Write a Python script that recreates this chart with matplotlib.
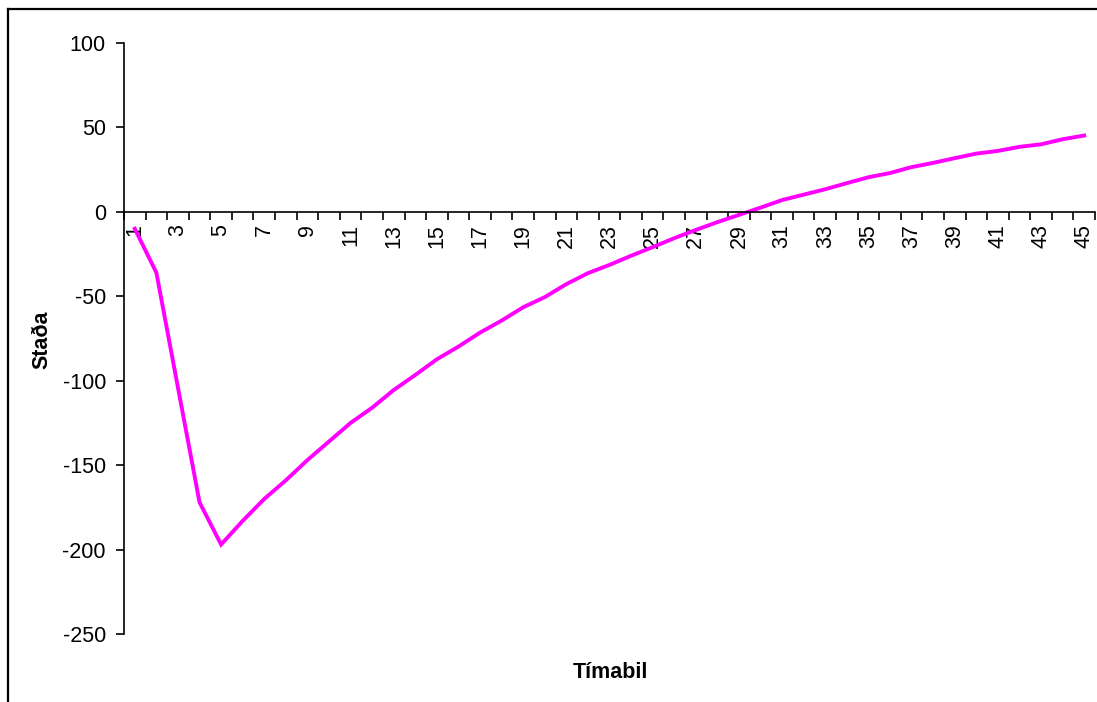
import matplotlib
matplotlib.use("Agg")
import matplotlib.pyplot as plt
from matplotlib.lines import Line2D
import numpy as np

plt.rcParams['font.family'] = ['Liberation Sans', 'DejaVu Sans']

# Tímabil 1..45 and the balance (Staða) for each period
periods = list(range(1, 46))
stada = [-10, -36, -104, -172, -197, -183, -170, -159, -147, -136,
         -125, -116, -105.5, -96.6, -87.3, -79.8, -71.5, -64.4, -56.5, -50.5,
         -42.8, -36.3, -31.4, -26, -20.9, -15.6, -10.7, -6.1, -1.8, 2.5,
         7, 10.2, 13.4, 17, 20.5, 23, 26.5, 29, 31.8, 34.5,
         36.1, 38.5, 40, 43, 45.2]
y_ticks = [-250, -200, -150, -100, -50, 0, 50, 100]
x_labels = [str(p) for p in periods if p % 2 == 1]

FS = 15.5
W, H = 1097, 702
fig = plt.figure(figsize=(W / 100, H / 100), dpi=100)
ax = fig.add_axes([124 / W, 1 - 634 / H, (1095 - 124) / W, (634 - 43) / H])

ax.plot(periods, stada, color='#FF00FF', lw=2.8, solid_joinstyle='miter')

ax.set_xlim(0.5, len(periods) + 0.5)
ax.set_ylim(-250, 100)
ax.set_yticks(y_ticks)
ax.set_yticklabels([str(v) for v in y_ticks], fontsize=FS)
ax.tick_params(axis='y', direction='out', length=6, width=1.2, pad=7)

# category axis sits on y = 0, ticks between categories, labels on odd categories
for s in ['top', 'right']:
    ax.spines[s].set_visible(False)
ax.spines['bottom'].set_position(('data', 0))
ax.spines['bottom'].set_linewidth(1.2)
ax.spines['left'].set_linewidth(1.2)

ax.set_xticks(np.arange(0.5, len(periods) + 1, 1.0))
ax.set_xticklabels([])
ax.tick_params(axis='x', which='major', direction='out', length=6, width=1.2)
odd = [p for p in periods if p % 2 == 1]
ax.set_xticks(odd, minor=True)
ax.set_xticklabels(x_labels, minor=True, rotation=90, fontsize=FS)
ax.tick_params(axis='x', which='minor', length=0, pad=9)

fig.text(42 / W, 1 - 340 / H, 'Staða', rotation=90, fontsize=FS,
         fontweight='bold', ha='center', va='center')
fig.text(610 / W, 1 - 672 / H, 'Tímabil', fontsize=FS,
         fontweight='bold', ha='center', va='center')

# outer chart-area frame
fig.add_artist(Line2D([8 / W, 8 / W], [0, 1 - 9 / H], color='black', lw=1.6,
                      transform=fig.transFigure))
fig.add_artist(Line2D([8 / W, 1], [1 - 9 / H, 1 - 9 / H], color='black', lw=1.6,
                      transform=fig.transFigure))

fig.savefig('out.png', dpi=100)
